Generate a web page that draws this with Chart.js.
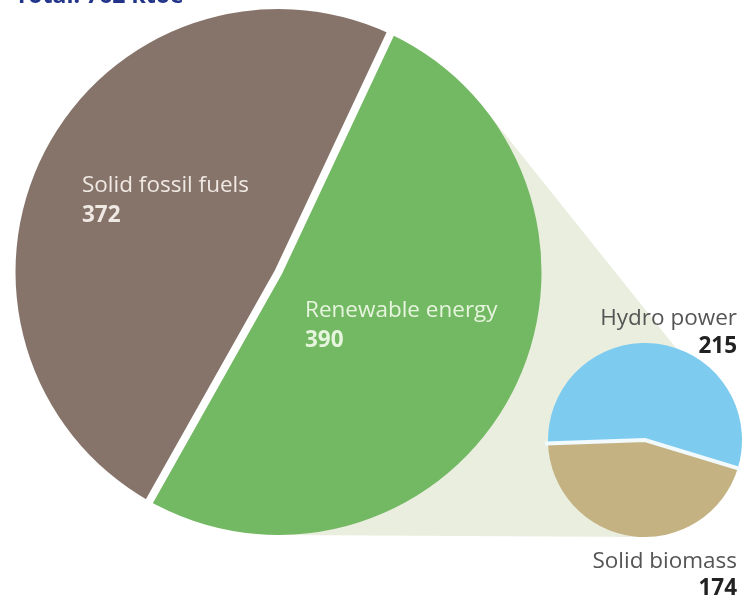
<!DOCTYPE html>
<html><head><meta charset="utf-8">
<script src="https://cdn.jsdelivr.net/npm/chart.js@4/dist/chart.umd.min.js"></script>
<style>
html,body{margin:0;padding:0;background:#fff;width:744px;height:598px;overflow:hidden}
#wrap{position:relative;width:744px;height:598px}
canvas{position:absolute}
#big{left:0;top:0}
#small{left:540px;top:290px}
</style></head><body>
<div id="wrap"><canvas id="big" width="744" height="598"></canvas><canvas id="small" width="204" height="308"></canvas></div>
<script>
const titleText = 'Total: 762 ktoe';
const mainCategories = ['Solid fossil fuels', 'Renewable energy'];
const mainValues = [372, 390];
const renewCategories = ['Hydro power', 'Solid biomass'];
const renewValues = [215, 174];

const mainColors = ['#86746a', '#73b862'];
const renewColors = ['#7ecbf0', '#c5b283'];
const FONT = '"Open Sans", "Noto Sans", sans-serif';

function gapLines(width, color) {
  return {
    id: 'gap' + width,
    afterDatasetsDraw(chart) {
      const arcs = chart.getDatasetMeta(0).data;
      const ctx = chart.ctx;
      const a0 = arcs[0];
      const cx = a0.x, cy = a0.y, R = a0.outerRadius + 3;
      ctx.save();
      ctx.strokeStyle = color;
      ctx.lineWidth = width;
      ctx.lineJoin = 'miter';
      ctx.lineCap = 'butt';
      ctx.beginPath();
      const angA = arcs[0].startAngle, angB = arcs[1].startAngle;
      ctx.moveTo(cx + R * Math.cos(angA), cy + R * Math.sin(angA));
      ctx.lineTo(cx, cy);
      ctx.lineTo(cx + R * Math.cos(angB), cy + R * Math.sin(angB));
      ctx.stroke();
      ctx.restore();
    }
  };
}

// small chart (renewable breakdown)
const smallLabels = {
  id: 'smallLabels',
  afterDatasetsDraw(chart) {
    const ctx = chart.ctx;
    ctx.save();
    ctx.textAlign = 'right';
    ctx.textBaseline = 'alphabetic';
    const pos = [[35, 63], [278, 305]];
    renewCategories.forEach((c, i) => {
      ctx.font = '22.5px ' + FONT;
      ctx.fillStyle = '#555555';
      ctx.fillText(c, 197, pos[i][0]);
      ctx.font = 'bold 22.5px ' + FONT;
      ctx.fillStyle = '#222222';
      ctx.fillText(String(renewValues[i]), 197, pos[i][1]);
    });
    ctx.restore();
  }
};

const smallChart = new Chart(document.getElementById('small'), {
  type: 'pie',
  data: { labels: renewCategories, datasets: [{ data: renewValues, backgroundColor: renewColors, borderWidth: 0, hoverOffset: 0 }] },
  options: {
    responsive: false, animation: false, devicePixelRatio: 1, events: [],
    rotation: -92,
    layout: { padding: { left: 8, top: 53, right: 2, bottom: 61 } },
    plugins: { legend: { display: false }, tooltip: { enabled: false } }
  },
  plugins: [gapLines(4, '#f2fafd'), smallLabels]
});

const SMALL_LEFT = 540, SMALL_TOP = 290;

const shade = {
  id: 'shade',
  beforeDatasetsDraw(chart) {
    const a = chart.getDatasetMeta(0).data[0];
    const s = smallChart.getDatasetMeta(0).data[0];
    const sx = s.x + SMALL_LEFT, sy = s.y + SMALL_TOP, sr = s.outerRadius;
    const bx = a.x, by = a.y, br = a.outerRadius;
    const t1 = 53 * Math.PI / 180, t2 = 18.6 * Math.PI / 180;
    const ctx = chart.ctx;
    ctx.save();
    ctx.fillStyle = '#eaeedf';
    ctx.beginPath();
    ctx.moveTo(bx + br * Math.sin(t1), by - br * Math.cos(t1));
    ctx.lineTo(sx + sr * Math.sin(t2), sy - sr * Math.cos(t2));
    ctx.lineTo(sx, sy + sr);
    ctx.lineTo(bx, by + br);
    ctx.closePath();
    ctx.fill();
    ctx.restore();
  }
};

const mainLabels = {
  id: 'mainLabels',
  afterDatasetsDraw(chart) {
    const ctx = chart.ctx;
    ctx.save();
    ctx.textAlign = 'left';
    ctx.textBaseline = 'alphabetic';
    const pos = [[82, 192, 222, 'rgba(248,242,238,0.92)'], [305, 317, 347, 'rgba(236,248,228,0.95)']];
    mainCategories.forEach((c, i) => {
      const p = pos[i];
      ctx.fillStyle = p[3];
      ctx.font = '22.5px ' + FONT;
      ctx.fillText(c, p[0], p[1]);
      ctx.font = 'bold 22.5px ' + FONT;
      ctx.fillText(String(mainValues[i]), p[0], p[2]);
    });
    // title (cut off at top edge as in the source)
    ctx.fillStyle = '#22348a';
    ctx.font = 'bold 23px ' + FONT;
    ctx.fillText(titleText, 15, 3);
    ctx.restore();
  }
};

new Chart(document.getElementById('big'), {
  type: 'pie',
  data: { labels: mainCategories, datasets: [{ data: mainValues, backgroundColor: mainColors, borderWidth: 0, hoverOffset: 0 }] },
  options: {
    responsive: false, animation: false, devicePixelRatio: 1, events: [],
    rotation: -150.6,
    layout: { padding: { left: 15, top: 9, right: 202, bottom: 63 } },
    plugins: { legend: { display: false }, tooltip: { enabled: false } }
  },
  plugins: [shade, gapLines(8, '#ffffff'), mainLabels]
});
</script>
</body></html>
